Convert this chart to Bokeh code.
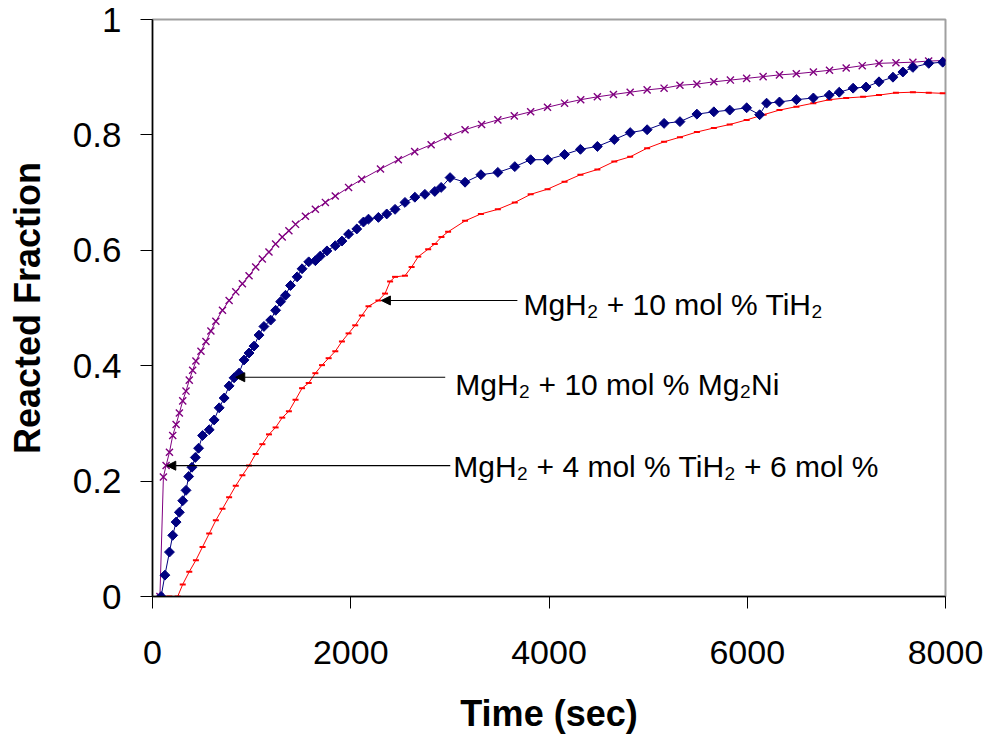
import math
from bokeh.plotting import figure
from bokeh.models import Range1d, FixedTicker, Arrow, NormalHead, Label
from bokeh.embed import file_html
from bokeh.resources import INLINE

# ---------------- data ----------------
# MgH2 + 4 mol % TiH2 + 6 mol % Mg2Ni  (purple, x markers)
t_mix = [75, 110, 137, 171, 204, 238, 271, 305, 338, 371, 405, 438, 489, 539, 589,
         639, 706, 773, 840, 907, 974, 1041, 1108, 1175, 1242, 1309, 1376, 1443,
         1543, 1643, 1744, 1844, 1978, 2110, 2300, 2480, 2645, 2811, 2980, 3153,
         3320, 3484, 3650, 3815, 3985, 4157, 4320, 4488, 4650, 4819, 4990, 5161,
         5321, 5492, 5663, 5830, 5994, 6160, 6325, 6495, 6667, 6830, 6998, 7160,
         7329, 7500, 7671, 7830, 8000]
f_mix = [0.0, 0.207, 0.227, 0.25, 0.279, 0.298, 0.318, 0.339, 0.356, 0.375, 0.392,
         0.408, 0.425, 0.442, 0.46, 0.477, 0.496, 0.513, 0.528, 0.542, 0.556, 0.571,
         0.585, 0.597, 0.611, 0.623, 0.634, 0.645, 0.659, 0.671, 0.683, 0.694, 0.709,
         0.723, 0.741, 0.757, 0.771, 0.783, 0.797, 0.809, 0.818, 0.826, 0.833, 0.84,
         0.848, 0.855, 0.861, 0.866, 0.87, 0.874, 0.878, 0.881, 0.886, 0.888, 0.892,
         0.895, 0.898, 0.901, 0.904, 0.906, 0.909, 0.912, 0.916, 0.92, 0.924, 0.925,
         0.926, 0.928, 0.929]

# MgH2 + 10 mol % Mg2Ni  (navy, diamonds)
t_mg2ni = [87, 125, 171, 204, 238, 271, 305, 338, 365, 398, 432, 465, 505, 572, 622,
           673, 723, 773, 823, 873, 924, 974, 1024, 1074, 1124, 1192, 1242, 1292,
           1342, 1392, 1459, 1509, 1576, 1643, 1693, 1760, 1844, 1911, 1978, 2061,
           2128, 2179, 2279, 2363, 2447, 2547, 2647, 2748, 2848, 2912, 3002, 3153,
           3313, 3484, 3655, 3815, 3986, 4157, 4317, 4488, 4659, 4819, 4990, 5161,
           5321, 5492, 5663, 5823, 5994, 6125, 6195, 6325, 6496, 6667, 6827, 6928,
           7068, 7199, 7329, 7470, 7570, 7671, 7831, 7972]
f_mg2ni = [0.0, 0.037, 0.077, 0.106, 0.129, 0.146, 0.166, 0.184, 0.208, 0.224, 0.241,
           0.257, 0.279, 0.289, 0.306, 0.327, 0.344, 0.365, 0.379, 0.387, 0.41, 0.422,
           0.434, 0.453, 0.468, 0.479, 0.496, 0.511, 0.522, 0.539, 0.554, 0.568, 0.58,
           0.582, 0.59, 0.599, 0.608, 0.616, 0.628, 0.637, 0.649, 0.654, 0.657, 0.663,
           0.671, 0.683, 0.692, 0.697, 0.702, 0.709, 0.726, 0.718, 0.731, 0.735, 0.745,
           0.757, 0.757, 0.766, 0.775, 0.78, 0.792, 0.804, 0.809, 0.82, 0.823, 0.836,
           0.84, 0.843, 0.847, 0.835, 0.855, 0.857, 0.861, 0.864, 0.869, 0.874, 0.881,
           0.883, 0.892, 0.9, 0.909, 0.917, 0.924, 0.926]

# MgH2 + 10 mol % TiH2  (red, dashes)
t_tih2 = [90, 170, 254, 305, 371, 438, 505, 572, 639, 706, 773, 840, 907, 974, 1041,
          1108, 1175, 1242, 1309, 1376, 1443, 1509, 1576, 1643, 1710, 1777, 1844,
          1911, 1978, 2045, 2112, 2179, 2279, 2346, 2397, 2447, 2547, 2614, 2681,
          2781, 2848, 2915, 2982, 3153, 3313, 3484, 3655, 3815, 3986, 4157, 4317,
          4488, 4659, 4819, 4990, 5161, 5321, 5492, 5663, 5823, 5994, 6165, 6325,
          6496, 6667, 6827, 6998, 7169, 7329, 7500, 7671, 7831, 7972]
f_tih2 = [0.0, 0.0, 0.0, 0.021, 0.043, 0.063, 0.086, 0.109, 0.132, 0.152, 0.172, 0.192,
          0.21, 0.227, 0.247, 0.264, 0.281, 0.293, 0.31, 0.321, 0.341, 0.361, 0.37,
          0.387, 0.401, 0.413, 0.425, 0.442, 0.456, 0.47, 0.487, 0.503, 0.513, 0.525,
          0.546, 0.554, 0.556, 0.571, 0.589, 0.602, 0.611, 0.623, 0.632, 0.651, 0.663,
          0.671, 0.683, 0.697, 0.706, 0.719, 0.731, 0.74, 0.754, 0.762, 0.777, 0.788,
          0.796, 0.805, 0.812, 0.818, 0.826, 0.835, 0.843, 0.849, 0.855, 0.861, 0.864,
          0.866, 0.869, 0.873, 0.874, 0.873, 0.872]

x_ticks = [0, 2000, 4000, 6000, 8000]
y_ticks = [0, 0.2, 0.4, 0.6, 0.8, 1]
y_tick_labels = ["0", "0.2", "0.4", "0.6", "0.8", "1"]

label_tih2 = "MgH\u2082 + 10 mol % TiH\u2082"
label_mg2ni = "MgH\u2082 + 10 mol % Mg\u2082Ni"
label_mix = "MgH\u2082 + 4 mol % TiH\u2082 + 6 mol %"

# ---------------- figure ----------------
FONT = "Liberation Sans"
p = figure(width=983, height=736, x_range=Range1d(0, 8000), y_range=Range1d(0, 1),
           output_backend="svg", toolbar_location=None,
           min_border_left=152, min_border_right=38, min_border_top=19,
           min_border_bottom=136)
p.background_fill_color = "white"
p.border_fill_color = "white"
p.xgrid.visible = False
p.ygrid.visible = False
p.outline_line_color = "#a0a0a0"
p.outline_line_width = 2

for ax in (p.xaxis[0], p.yaxis[0]):
    ax.axis_line_color = "black"
    ax.axis_line_width = 1.5
    ax.major_tick_line_color = "black"
    ax.major_tick_in = 0
    ax.major_tick_out = 12
    ax.minor_tick_line_color = None
    ax.major_label_text_font = FONT
    ax.major_label_text_color = "black"
    ax.axis_label_text_font = FONT
    ax.axis_label_text_font_size = "36px"
    ax.axis_label_text_font_style = "bold"
    ax.axis_label_text_color = "black"

p.xaxis.major_label_text_font_size = "34px"
p.yaxis.major_label_text_font_size = "35px"
p.xaxis.ticker = FixedTicker(ticks=x_ticks)
p.yaxis.ticker = FixedTicker(ticks=y_ticks)
p.yaxis.major_label_overrides = dict(zip(y_ticks, y_tick_labels))
p.xaxis.major_label_standoff = 32
p.yaxis.major_label_standoff = 19
p.xaxis.axis_label = "Time (sec)"
p.yaxis.axis_label = "Reacted Fraction"
p.xaxis.axis_label_standoff = 26
p.yaxis.axis_label_standoff = 22

# series
p.line(t_mix, f_mix, line_color="#800080", line_width=1)
p.scatter(t_mix, f_mix, marker="x", size=10, line_color="#800080", line_width=1.4)

p.line(t_tih2, f_tih2, line_color="#ff0000", line_width=1)
p.scatter(t_tih2, f_tih2, marker="dash", size=6, line_color="#ff0000", line_width=2)

p.line(t_mg2ni, f_mg2ni, line_color="#000080", line_width=1)
p.scatter(t_mg2ni, f_mg2ni, marker="square", size=7, angle=math.pi / 4,
          fill_color="#000080", line_color="#000080")

# annotations
ann = [
    (3681, 2309, 0.513, 3742, 0.506, label_tih2),
    (2953, 840, 0.380, 3054, 0.367, label_mg2ni),
    (3004, 144, 0.2267, 3034, 0.2255, label_mix),
]
for xs, xe, ya, xt, yt, txt in ann:
    p.add_layout(Arrow(end=NormalHead(size=9, fill_color="black", line_color="black"),
                       x_start=xs, y_start=ya, x_end=xe, y_end=ya,
                       line_color="black", line_width=1.2))
    p.add_layout(Label(x=xt, y=yt, text=txt, text_font=FONT, text_font_size="30px",
                       text_baseline="middle", text_align="left", text_color="black"))

open("out.html", "w").write(file_html(p, INLINE))
